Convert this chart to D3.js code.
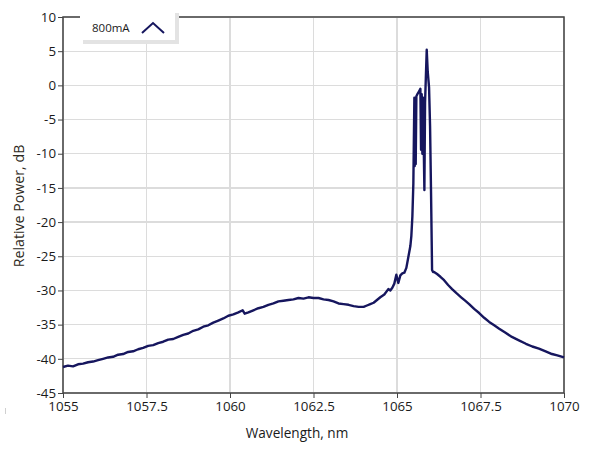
<!DOCTYPE html>
<html><head><meta charset="utf-8">
<script src="https://cdn.jsdelivr.net/npm/d3@7"></script>
<style>
html,body{margin:0;padding:0;background:#fff;}
svg{display:block;font-family:"Open Sans","Noto Sans",sans-serif;}
</style></head>
<body>
<svg id="chart" width="589" height="456"></svg>
<script>
// ---- data ----
const seriesName = "800mA";
const wavelength = [
1055.00,1055.15,1055.30,1055.45,1055.60,1055.75,1055.90,1056.05,1056.20,1056.35,
1056.50,1056.65,1056.80,1056.95,1057.10,1057.25,1057.40,1057.55,1057.70,1057.85,
1058.00,1058.15,1058.30,1058.45,1058.60,1058.75,1058.90,1059.05,1059.20,1059.35,
1059.50,1059.65,1059.80,1059.95,1060.10,1060.25,1060.38,1060.44,1060.55,1060.70,
1060.85,1061.00,1061.15,1061.30,1061.45,1061.60,1061.75,1061.90,1062.05,1062.20,
1062.35,1062.50,1062.65,1062.80,1062.95,1063.10,1063.25,1063.40,1063.55,1063.70,
1063.85,1064.00,1064.10,1064.20,1064.30,1064.40,1064.50,1064.62,1064.74,1064.80,
1064.86,1064.92,1064.98,1065.04,1065.10,1065.16,1065.22,1065.28,1065.34,1065.40,
1065.43,1065.46,1065.49,1065.52,1065.53,1065.55,1065.56,1065.58,1065.62,1065.66,
1065.70,1065.72,1065.74,1065.76,1065.78,1065.82,1065.84,1065.89,1065.92,1065.96,
1065.99,1066.02,1066.05,1066.08,1066.11,1066.20,1066.30,1066.41,1066.53,1066.65,
1066.78,1066.92,1067.04,1067.16,1067.31,1067.46,1067.61,1067.76,1067.91,1068.06,
1068.25,1068.44,1068.65,1068.86,1069.05,1069.25,1069.45,1069.64,1069.80,1070.00
];
const powerDb = [
-41.2,-41.0,-41.1,-40.8,-40.7,-40.5,-40.4,-40.2,-40.0,-39.8,
-39.7,-39.4,-39.3,-39.0,-38.9,-38.6,-38.4,-38.1,-38.0,-37.7,
-37.5,-37.2,-37.1,-36.8,-36.5,-36.3,-35.9,-35.7,-35.3,-35.1,
-34.7,-34.4,-34.1,-33.7,-33.5,-33.2,-32.9,-33.4,-33.2,-32.9,
-32.6,-32.4,-32.1,-31.9,-31.6,-31.5,-31.4,-31.3,-31.1,-31.2,
-31.0,-31.1,-31.1,-31.3,-31.4,-31.6,-31.9,-32.0,-32.1,-32.3,
-32.4,-32.4,-32.2,-32.0,-31.8,-31.4,-31.0,-30.6,-29.8,-30.0,
-29.6,-29.0,-27.7,-28.9,-27.8,-27.5,-27.4,-26.7,-25.1,-23.5,
-22.0,-19.2,-14.3,-1.8,-11.8,-2.0,-11.5,-1.6,-1.2,-0.9,
-0.5,-9.4,-1.3,-10.0,-1.8,-15.3,-2.5,5.2,2.0,-0.3,
-6.0,-16.0,-27.0,-27.3,-27.3,-27.6,-28.0,-28.5,-29.2,-29.8,
-30.4,-31.0,-31.5,-32.0,-32.7,-33.3,-34.0,-34.6,-35.1,-35.6,
-36.2,-36.8,-37.3,-37.8,-38.2,-38.5,-38.9,-39.3,-39.5,-39.8
];
const xTicks = [1055,1057.5,1060,1062.5,1065,1067.5,1070];
const yTicks = [10,5,0,-5,-10,-15,-20,-25,-30,-35,-40,-45];
const xTitle = "Wavelength, nm";
const yTitle = "Relative Power, dB";

// ---- layout ----
const svg = d3.select("#chart");
const L = 63, R = 564, T = 17, B = 393;
const x = d3.scaleLinear().domain([1055,1070]).range([L,R]);
const y = d3.scaleLinear().domain([-45,10]).range([B,T]);
const lineColor = "#16165e";

// grid
svg.append("g").selectAll("line.gx").data(xTicks).join("line")
  .attr("x1",d=>x(d)).attr("x2",d=>x(d)).attr("y1",T).attr("y2",B)
  .attr("stroke","#dcdcdc").attr("stroke-width",1.3).attr("shape-rendering","crispEdges");
svg.append("g").selectAll("line.gy").data(yTicks).join("line")
  .attr("x1",L).attr("x2",R).attr("y1",d=>y(d)).attr("y2",d=>y(d))
  .attr("stroke","#dcdcdc").attr("stroke-width",1.3).attr("shape-rendering","crispEdges");

// axes
const xAxis = d3.axisBottom(x).tickValues(xTicks).tickSize(5).tickSizeOuter(0).tickPadding(4)
  .tickFormat(d=>String(d));
const yAxis = d3.axisLeft(y).tickValues(yTicks).tickSize(5).tickSizeOuter(0).tickPadding(2)
  .tickFormat(d=>String(d).replace("−","-"));
const gx = svg.append("g").attr("transform",`translate(0,${B})`).call(xAxis);
const gy = svg.append("g").attr("transform",`translate(${L},0)`).call(yAxis);
[gx,gy].forEach(g=>{
  g.select(".domain").remove();
  g.selectAll(".tick line").attr("stroke","#444");
  g.selectAll(".tick text").attr("fill","#1a1a1a").style("font-size","13.3px")
   .style("font-family",'"Open Sans","Noto Sans",sans-serif');
});

// frame
svg.append("rect").attr("x",L).attr("y",T).attr("width",R-L).attr("height",B-T)
  .attr("fill","none").attr("stroke","#444").attr("stroke-width",1.5);

// line
const line = d3.line().x((d,i)=>x(wavelength[i])).y(d=>y(d));
svg.append("path").datum(powerDb).attr("d",line)
  .attr("fill","none").attr("stroke",lineColor).attr("stroke-width",2.4)
  .attr("stroke-linejoin","round");

// titles
svg.append("text").attr("x",297).attr("y",438).attr("text-anchor","middle")
  .style("font-size","13.6px").attr("fill","#1a1a1a").text(xTitle);
svg.append("text").attr("transform",`translate(24,206) rotate(-90)`)
  .attr("text-anchor","middle").style("font-size","14.2px").attr("fill","#2e2a22").text(yTitle);

// legend
const lg = svg.append("g");
lg.append("rect").attr("x",83).attr("y",13).attr("width",96).attr("height",31).attr("fill","#e3e3e3");
lg.append("rect").attr("x",80).attr("y",10).attr("width",95).attr("height",30).attr("fill","#fff");
lg.append("text").attr("x",92).attr("y",32).style("font-size","11.5px").attr("fill","#1a1a1a").text(seriesName);
lg.append("path").attr("d","M142,33 L153,23 L164,33").attr("fill","none")
  .attr("stroke",lineColor).attr("stroke-width",2);

// stray mark bottom-left
svg.append("line").attr("x1",5.5).attr("x2",5.5).attr("y1",408).attr("y2",414)
  .attr("stroke","#d0d0d0").attr("stroke-width",1);
</script>
</body></html>
